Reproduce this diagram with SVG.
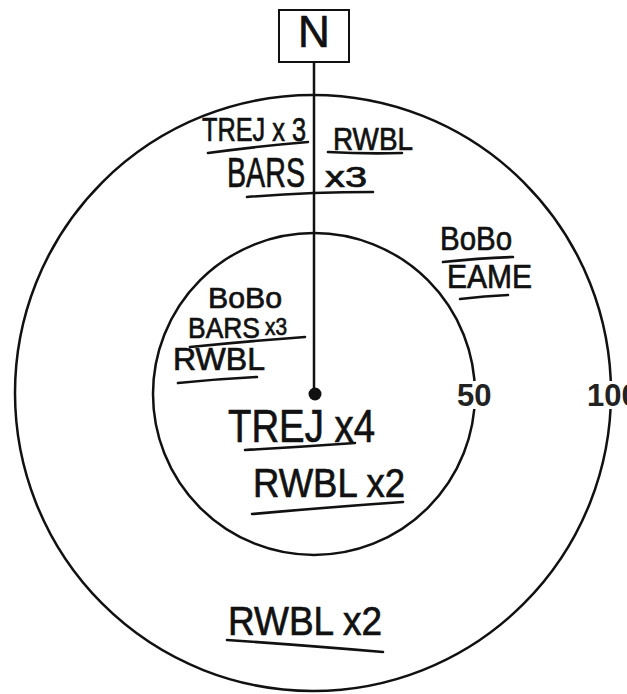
<svg xmlns="http://www.w3.org/2000/svg" width="627" height="694" viewBox="0 0 627 694">
<style>
.ring{fill:none;stroke:#111;stroke-width:2.5}
.hw{font-family:"Liberation Sans","DejaVu Sans",sans-serif;fill:#111;stroke:#111;stroke-width:0.7}
.ul{fill:none;stroke:#111;stroke-width:2.6;stroke-linecap:round}
.num{font-family:"Liberation Sans",Arial,sans-serif;font-weight:bold;font-size:31px;fill:#222}
.bg{fill:#fff}
</style>
<rect width="627" height="694" fill="#fff"/>
<g id="outer-ring"><circle class="ring" cx="313" cy="393" r="298"/></g>
<g id="inner-ring"><circle class="ring" cx="314" cy="394" r="161"/></g>
<g id="connectors"><line x1="314" y1="62" x2="314" y2="394" stroke="#111" stroke-width="2.5"/></g>
<g id="north"><rect x="279" y="10" width="70" height="52" fill="#fff" stroke="#111" stroke-width="2"/><text class="hw" x="314" y="47" font-size="44" text-anchor="middle">N</text></g>
<g id="center"><circle cx="315" cy="394" r="6.5" fill="#111"/></g>
<g id="scale-50"><rect class="bg" x="455" y="381" width="38" height="28"/><text class="num" x="457" y="406">50</text></g>
<g id="scale-100"><rect class="bg" x="585" y="381" width="42" height="28"/><text class="num" x="587" y="406">100</text></g>
<g id="outer-north-left">
<text class="hw" x="202" y="141" font-size="34" textLength="104" lengthAdjust="spacingAndGlyphs">TREJ x 3</text>
<path class="ul" d="M208 153 Q260 146 308 142"/>
<text class="hw" font-size="42"><tspan x="227" y="187" textLength="78" lengthAdjust="spacingAndGlyphs">BARS</tspan><tspan x="325" y="187" font-size="30" textLength="42" lengthAdjust="spacingAndGlyphs">x3</tspan></text>
<path class="ul" d="M247 197 Q310 192 373 192"/>
</g>
<g id="outer-north-right">
<text class="hw" x="333" y="150" font-size="31" textLength="80" lengthAdjust="spacingAndGlyphs">RWBL</text>
<path class="ul" d="M328 152 Q365 154 402 153"/>
</g>
<g id="outer-east">
<text class="hw" x="440" y="250" font-size="33" textLength="72" lengthAdjust="spacingAndGlyphs">BoBo</text>
<path class="ul" d="M443 262 Q480 258 513 257" stroke="#888"/>
<text class="hw" x="447" y="288" font-size="34" textLength="85" lengthAdjust="spacingAndGlyphs">EAME</text>
<path class="ul" d="M460 299 Q485 296 508 295"/>
</g>
<g id="inner-west">
<text class="hw" x="208" y="308" font-size="30" textLength="74" lengthAdjust="spacingAndGlyphs">BoBo</text>
<text class="hw" font-size="30"><tspan x="188" y="338" textLength="72" lengthAdjust="spacingAndGlyphs">BARS</tspan><tspan x="265" y="335" font-size="24" textLength="22" lengthAdjust="spacingAndGlyphs">x3</tspan></text>
<path class="ul" d="M190 347 Q250 341 305 337"/>
<text class="hw" x="173" y="370" font-size="31" textLength="92" lengthAdjust="spacingAndGlyphs">RWBL</text>
<path class="ul" d="M178 383 Q218 379 257 377"/>
</g>
<g id="inner-center">
<text class="hw" x="228" y="442" font-size="47" textLength="147" lengthAdjust="spacingAndGlyphs">TREJ x4</text>
<path class="ul" d="M245 450 Q300 447 355 443"/>
<text class="hw" x="253" y="497" font-size="41" textLength="152" lengthAdjust="spacingAndGlyphs">RWBL x2</text>
<path class="ul" d="M252 514 Q330 507 403 502"/>
</g>
<g id="outer-south">
<text class="hw" x="228" y="635" font-size="41" textLength="154" lengthAdjust="spacingAndGlyphs">RWBL x2</text>
<path class="ul" d="M227 640 Q300 645 383 652"/>
</g>
</svg>
